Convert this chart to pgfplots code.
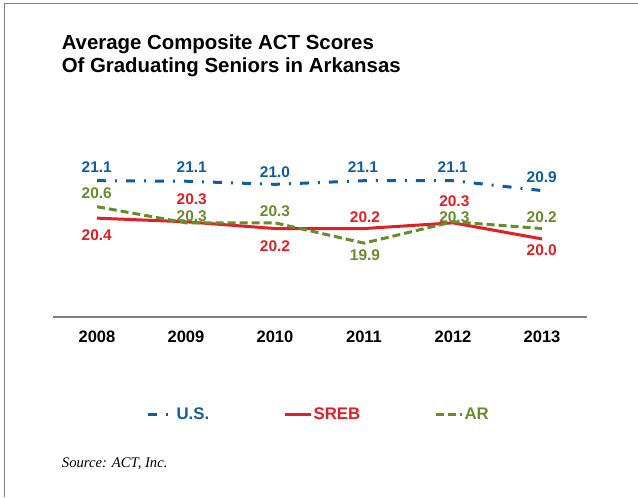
\documentclass[border=0pt]{standalone}
\usepackage{pgfplots}
\pgfplotsset{compat=1.18}
\usepackage{fontspec}
\setmainfont{Liberation Sans}
\newfontfamily\srcfont{Liberation Serif}
\definecolor{usblue}{RGB}{16,94,160}
\definecolor{srebred}{RGB}{228,30,38}
\definecolor{argreen}{RGB}{102,140,44}
\definecolor{framegray}{RGB}{128,128,128}
\newcommand{\lab}[1]{\fontsize{11.6}{12}\selectfont\bfseries #1}
\begin{document}
\begin{tikzpicture}[x=0.75pt,y=0.75pt]
\useasboundingbox (0,0) rectangle (638,497);
\draw[framegray, line width=1pt] (4.5,0) -- (4.5,493.5) -- (638,493.5);
\coordinate (axpos) at (52.5,180.5);
\begin{axis}[
  at={(axpos)}, anchor=south west,
  scale only axis, width=400.5pt, height=132.375pt,
  xmin=-0.5, xmax=5.5, ymin=18.4885, ymax=21.8827,
  clip=false,
  axis x line=bottom, axis y line=none,
  x axis line style={-, line width=1.5pt, color=framegray},
  xtick={0,1,2,3,4,5},
  xticklabels={2008,2009,2010,2011,2012,2013},
  xtick style={draw=none},
  xticklabel style={font=\fontsize{12.4}{12.4}\selectfont\bfseries, anchor=base, yshift=-17.5pt},
  ytick=\empty,
  legend columns=3,
  legend style={draw=none, fill=none, at={(0.175,-0.555)}, anchor=west,
    inner sep=0pt, font=\fontsize{12.6}{12.6}\selectfont\bfseries,
    nodes={inner sep=0pt},
    /tikz/every odd column/.append style={column sep=1pt},
    /tikz/every even column/.append style={column sep=55.5pt}},
  legend image code/.code={\draw[#1] (0pt,0pt) -- (19.5pt,0pt);},
]
\addplot[usblue, line width=2.25pt, dash pattern=on 6.75pt off 6.75pt on 1.5pt off 6.75pt]
  coordinates {(0,21.10) (1,21.09) (2,21.03) (3,21.10) (4,21.10) (5,20.91)};
\addlegendentry{\textcolor{usblue}{U.S.}}
\addplot[srebred, line width=2.25pt]
  coordinates {(0,20.38) (1,20.31) (2,20.18) (3,20.18) (4,20.29) (5,19.98)};
\addlegendentry{\textcolor{srebred}{SREB}}
\addplot[argreen, line width=2.25pt, dash pattern=on 6pt off 3pt]
  coordinates {(0,20.60) (1,20.29) (2,20.29) (3,19.90) (4,20.31) (5,20.18)};
\addlegendentry{\textcolor{argreen}{AR}}
\end{axis}
% title
\node[anchor=base west, inner sep=0pt, font=\fontsize{15.3}{15.3}\selectfont\bfseries] at (61.5,447.2) {Average Composite ACT Scores};
\node[anchor=base west, inner sep=0pt, font=\fontsize{15.3}{15.3}\selectfont\bfseries] at (61.5,424.2) {Of Graduating Seniors in Arkansas};
% data labels U.S.
\begin{scope}[every node/.style={anchor=base, inner sep=0pt, text=usblue}]
\node at (96.7,324.8) {\lab{21.1}};
\node at (191.7,324.8) {\lab{21.1}};
\node at (275,319.8) {\lab{21.0}};
\node at (363,324.8) {\lab{21.1}};
\node at (452.7,324.8) {\lab{21.1}};
\node at (541.7,314.8) {\lab{20.9}};
\end{scope}
\begin{scope}[every node/.style={anchor=base, inner sep=0pt, text=srebred}]
\node at (96.7,256.5) {\lab{20.4}};
\node at (191.7,292.2) {\lab{20.3}};
\node at (275,245.5) {\lab{20.2}};
\node at (365,274.8) {\lab{20.2}};
\node at (454.3,290.5) {\lab{20.3}};
\node at (541.7,241.5) {\lab{20.0}};
\end{scope}
\begin{scope}[every node/.style={anchor=base, inner sep=0pt, text=argreen}]
\node at (96.7,298.8) {\lab{20.6}};
\node at (191.7,275.5) {\lab{20.3}};
\node at (275,280.8) {\lab{20.3}};
\node at (365,236.5) {\lab{19.9}};
\node at (454.3,274.8) {\lab{20.3}};
\node at (541.7,274.8) {\lab{20.2}};
\end{scope}
% source
\node[anchor=base west, inner sep=0pt, font=\srcfont\itshape\fontsize{11}{11}\selectfont] at (61.7,29.7) {Source: ACT, Inc.};
\end{tikzpicture}
\end{document}
